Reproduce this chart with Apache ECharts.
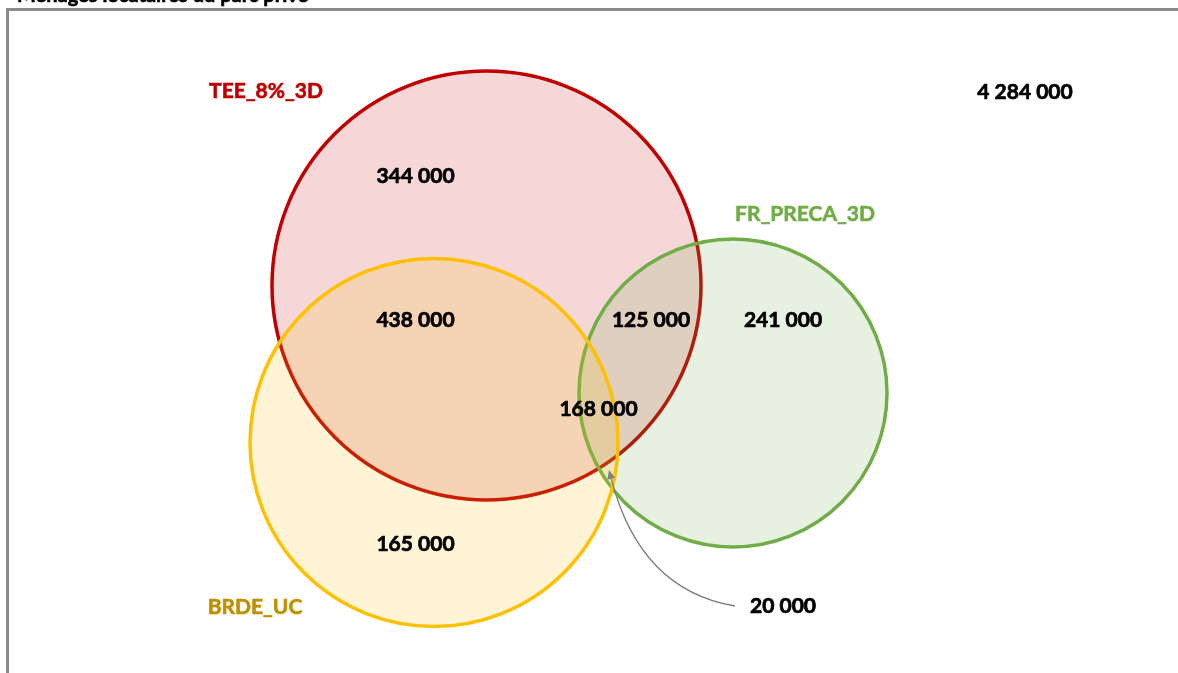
<!DOCTYPE html>
<html>
<head>
<meta charset="utf-8">
<script src="https://cdn.jsdelivr.net/npm/echarts@6/dist/echarts.min.js"></script>
<style>
  html, body { margin: 0; padding: 0; background: #fff; }
  #chart { width: 1178px; height: 673px; }
</style>
</head>
<body>
<div id="chart"></div>
<script>
// sets of the Venn diagram
const setNames = ["TEE_8%_3D", "FR_PRECA_3D", "BRDE_UC"];
// circle layout, in diagram units (x 0..117.8, y 0..67.3 from top)
const circleX = [48.65, 73.3, 43.4];
const circleY = [28.55, 39.3, 44.25];
const circleR = [21.45, 15.4, 18.4];
const setLabelX = [26.6, 80.5, 25.5];
const setLabelY = [9.1, 21.4, 60.7];

// region counts (households)
const regionNames = ["TEE seul", "TEE et BRDE", "TEE et FR", "FR seul", "TEE, FR et BRDE", "BRDE seul", "FR et BRDE", "Hors ensembles"];
const regionValues = [344000, 438000, 125000, 241000, 168000, 165000, 20000, 4284000];
const regionLabelX = [41.55, 41.55, 65.1, 78.3, 59.85, 41.55, 78.3, 102.5];
const regionLabelY = [17.6, 32.0, 32.0, 32.0, 40.9, 54.4, 60.6, 9.2];

// callout for the small FR/BRDE region
const calloutFrom = [73.5, 60.6];
const calloutCtrl = [64.0, 59.0];
const calloutTo = [60.9, 47.0];

const titleText = "Ménages locataires du parc privé";

const strokeColors = ["#c00000", "#70ad47", "#ffc000"];
const fillColors = ["rgba(192,0,0,0.155)", "rgba(112,173,71,0.165)", "rgba(255,192,0,0.16)"];
const labelColors = ["#c00000", "#70ad47", "#bf9000"];
const FONT = "Lato, 'Open Sans', sans-serif";

function fmt(v) {
  return String(v).replace(/\B(?=(\d{3})+(?!\d))/g, " ");
}

const chart = echarts.init(document.getElementById("chart"));

chart.setOption({
  animation: false,
  backgroundColor: "#fff",
  grid: { left: 0, right: 0, top: 0, bottom: 0 },
  xAxis: { type: "value", min: 0, max: 117.8, show: false },
  yAxis: { type: "value", min: 0, max: 67.3, inverse: true, show: false },
  graphic: [
    {
      type: "rect",
      z: 0,
      shape: { x: 7.5, y: 9.5, width: 1200, height: 700 },
      style: { fill: "none", stroke: "#8a8a8a", lineWidth: 3 }
    },
    {
      type: "text",
      x: 17,
      y: 6,
      style: {
        text: titleText,
        fill: "#000",
        stroke: "#000",
        lineWidth: 0.6,
        font: "bold 20px " + FONT,
        verticalAlign: "bottom"
      }
    }
  ],
  series: [
    {
      type: "custom",
      name: "circles",
      z: 2,
      data: setNames.map((n, i) => [circleX[i], circleY[i], circleR[i]]),
      renderItem(params, api) {
        const c = api.coord([api.value(0), api.value(1)]);
        const r = api.size([api.value(2), 0])[0];
        const i = params.dataIndex;
        return {
          type: "circle",
          shape: { cx: c[0], cy: c[1], r: r },
          style: { fill: fillColors[i], stroke: strokeColors[i], lineWidth: 3.5 }
        };
      }
    },
    {
      type: "custom",
      name: "callout",
      z: 3,
      data: [[calloutFrom[0], calloutFrom[1], calloutCtrl[0], calloutCtrl[1], calloutTo[0], calloutTo[1]]],
      renderItem(params, api) {
        const a = api.coord([api.value(0), api.value(1)]);
        const c = api.coord([api.value(2), api.value(3)]);
        const b = api.coord([api.value(4), api.value(5)]);
        let dx = b[0] - c[0], dy = b[1] - c[1];
        const len = Math.hypot(dx, dy);
        dx /= len; dy /= len;
        const hl = 9, hw = 4;
        const bx = b[0] - dx * hl, by = b[1] - dy * hl;
        return {
          type: "group",
          children: [
            {
              type: "bezierCurve",
              shape: { x1: a[0], y1: a[1], cpx1: c[0], cpy1: c[1], x2: bx, y2: by },
              style: { fill: null, stroke: "#7f7f7f", lineWidth: 1.3 }
            },
            {
              type: "polygon",
              shape: { points: [[b[0], b[1]], [bx - dy * hw, by + dx * hw], [bx + dy * hw, by - dx * hw]] },
              style: { fill: "#7f7f7f" }
            }
          ]
        };
      }
    },
    {
      type: "custom",
      name: "regions",
      z: 4,
      data: regionNames.map((n, i) => [regionLabelX[i], regionLabelY[i], regionValues[i]]),
      renderItem(params, api) {
        const p = api.coord([api.value(0), api.value(1)]);
        return {
          type: "text",
          x: p[0],
          y: p[1],
          style: {
            text: fmt(api.value(2)),
            fill: "#000",
            stroke: "#000",
            lineWidth: 0.7,
            font: "bold 21px " + FONT,
            align: "center",
            verticalAlign: "middle"
          }
        };
      }
    },
    {
      type: "custom",
      name: "sets",
      z: 4,
      data: setNames.map((n, i) => [setLabelX[i], setLabelY[i]]),
      renderItem(params, api) {
        const p = api.coord([api.value(0), api.value(1)]);
        const i = params.dataIndex;
        return {
          type: "text",
          x: p[0],
          y: p[1],
          style: {
            text: setNames[i],
            fill: labelColors[i],
            stroke: labelColors[i],
            lineWidth: 0.6,
            font: "bold 21px " + FONT,
            align: "center",
            verticalAlign: "middle"
          }
        };
      }
    }
  ]
});
</script>
</body>
</html>
